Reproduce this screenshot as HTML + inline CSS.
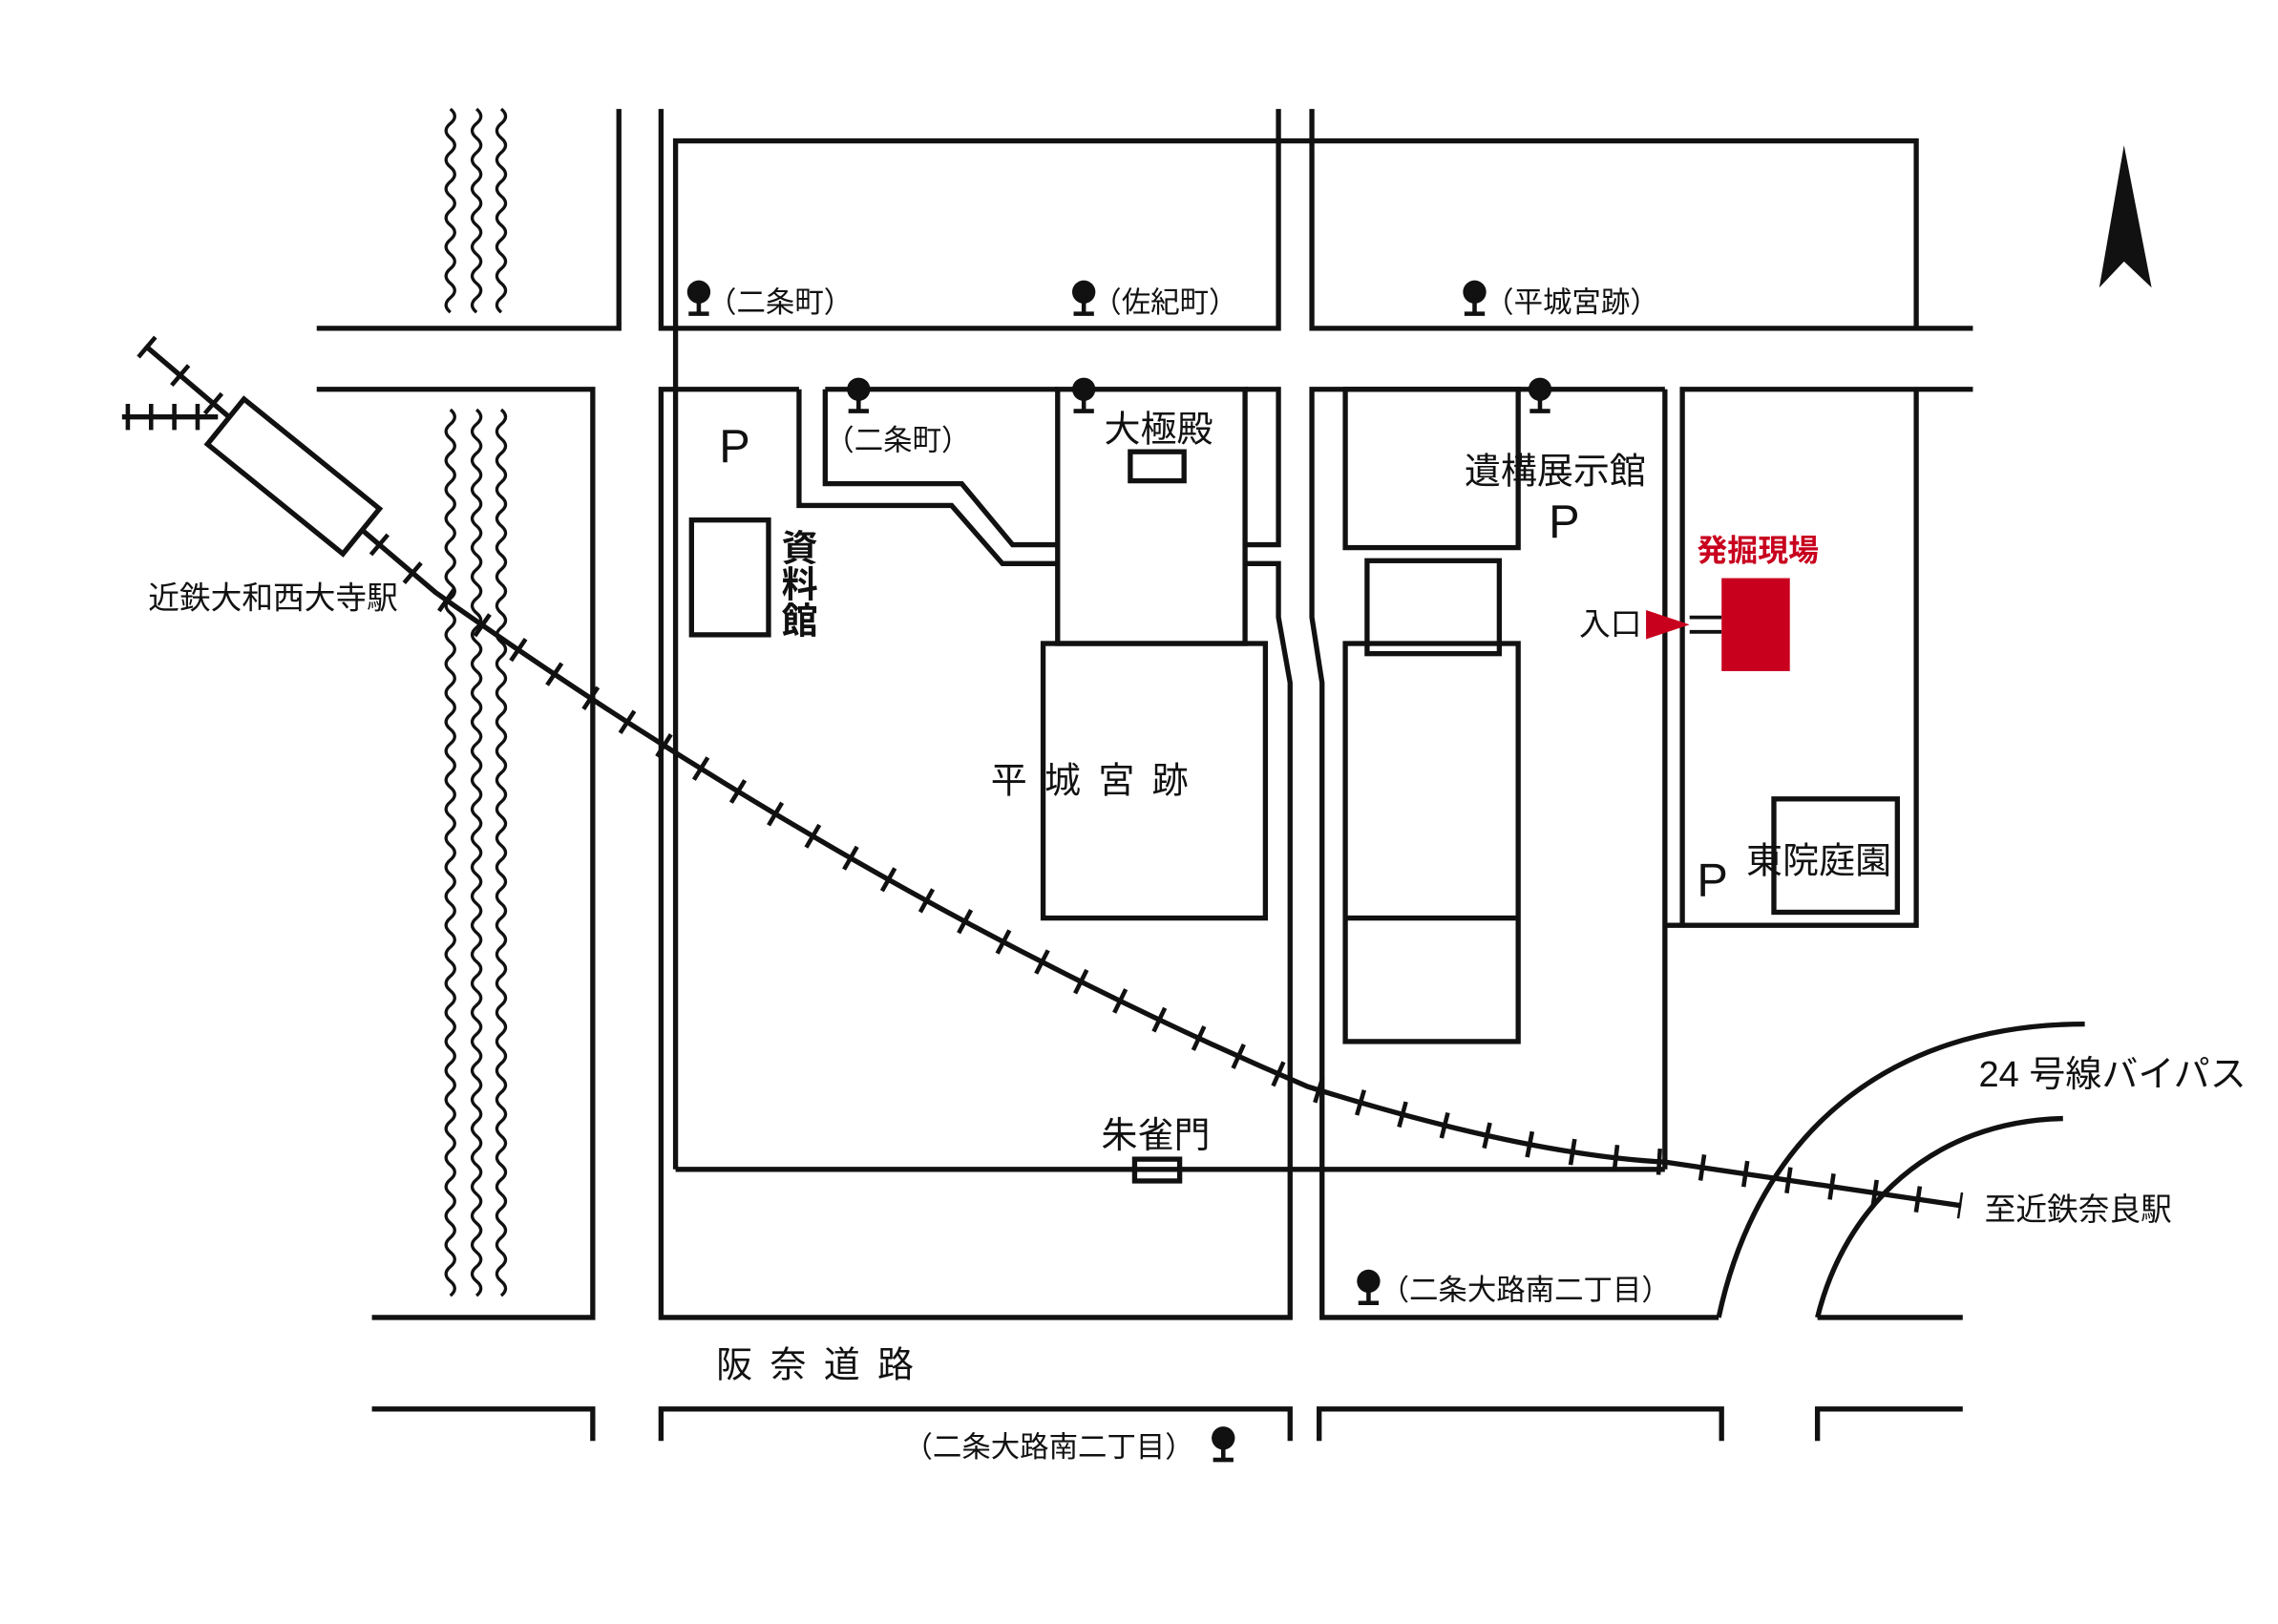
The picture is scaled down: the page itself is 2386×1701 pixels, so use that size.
<!DOCTYPE html>
<html><head><meta charset="utf-8"><style>
html,body{margin:0;padding:0;background:#fff}
svg{display:block}
text{font-family:"Liberation Sans","Noto Sans CJK JP",sans-serif;fill:#111}
</style></head><body>
<svg width="2386" height="1701" viewBox="0 0 1568 1118" preserveAspectRatio="none" xmlns="http://www.w3.org/2000/svg">
<defs>
<g id="pin"><circle cx="0" cy="0" r="8" fill="#111"/><line x1="0" y1="0" x2="0" y2="14" stroke="#111" stroke-width="3"/><line x1="-7" y1="15" x2="7" y2="15" stroke="#111" stroke-width="3"/></g>
</defs>
<g fill="none" stroke="#111" stroke-width="3.5">
<polyline points="218,226 426,226 426,75"/>
<polyline points="218,268 408,268 408,907 256,907"/>
<polyline points="455,75 455,226 880,226 880,75"/>
<polyline points="903,75 903,226 1358,226"/>
<polyline points="465,226 465,97 1319,97 1319,226"/>
<line x1="465" y1="226" x2="465" y2="805"/>
<line x1="465" y1="805" x2="1146" y2="805"/>
<polyline points="550,268 455,268 455,907 888,907 888,470 880,425 880,388 857,388"/>
<polyline points="550,268 550,348 655,348 690,388 728,388"/>
<polyline points="568,268 568,333 662,333 697,375 728,375"/>
<polyline points="568,268 728,268"/>
<polyline points="857,268 880,268 880,375 857,375"/>
<rect x="728" y="268" width="129" height="175"/>
<rect x="718" y="443" width="153" height="189"/>
<rect x="476" y="358" width="53" height="79"/>
<rect x="778" y="311" width="37" height="20"/>
<rect x="781" y="798" width="31" height="15"/>
<polyline points="1146,268 903,268 903,425 910,470 910,907 1183,907"/>
<line x1="1146" y1="268" x2="1146" y2="805"/>
<rect x="926" y="268" width="119" height="109"/>
<rect x="941" y="386" width="91" height="64"/>
<rect x="926" y="443" width="119" height="274"/>
<line x1="926" y1="632" x2="1045" y2="632"/>
<polyline points="1358,268 1158,268 1158,637"/>
<polyline points="1319,268 1319,637 1146,637"/>
<rect x="1221" y="550" width="85" height="78"/>
<polyline points="256,970 408,970 408,992"/>
<polyline points="455,992 455,970 888,970 888,992"/>
<polyline points="908,992 908,970 1185,970 1185,992"/>
<polyline points="1251,992 1251,970 1351,970"/>
<line x1="1251" y1="907" x2="1351" y2="907"/>
<path d="M1183,907 C1210,780 1300,705 1435,705"/>
<path d="M1251,907 C1270,830 1330,772 1420,770"/>
<path d="M100,238 L300,408 Q600,620 900,748 Q1050,795 1146,800 L1350,830"/>
<path d="M100,238 L300,408 Q600,620 900,748 Q1050,795 1146,800 L1350,830" stroke-width="18" stroke-dasharray="3 27"/>
<line x1="84" y1="287" x2="150" y2="287"/>
<path d="M88,278 v18 M104,278 v18 M120,278 v18 M136,278 v18" stroke-width="3"/>
<rect x="-60" y="-20" width="120" height="40" fill="#fff" transform="translate(202,328) rotate(39)"/>
<g stroke-width="2.2">
<path d="M310,75 q6,5 0,10 t0,10 t0,10 t0,10 t0,10 t0,10 t0,10 t0,10 t0,10 t0,10 t0,10 t0,10 t0,10 t0,10"/>
<path d="M328,75 q6,5 0,10 t0,10 t0,10 t0,10 t0,10 t0,10 t0,10 t0,10 t0,10 t0,10 t0,10 t0,10 t0,10 t0,10"/>
<path d="M345,75 q6,5 0,10 t0,10 t0,10 t0,10 t0,10 t0,10 t0,10 t0,10 t0,10 t0,10 t0,10 t0,10 t0,10 t0,10"/>
<path id="rv" d="M310,282 q6,5 0,10 t0,10 t0,10 t0,10 t0,10 t0,10 t0,10 t0,10 t0,10 t0,10 t0,10 t0,10 t0,10 t0,10 t0,10 t0,10 t0,10 t0,10 t0,10 t0,10 t0,10 t0,10 t0,10 t0,10 t0,10 t0,10 t0,10 t0,10 t0,10 t0,10 t0,10 t0,10 t0,10 t0,10 t0,10 t0,10 t0,10 t0,10 t0,10 t0,10 t0,10 t0,10 t0,10 t0,10 t0,10 t0,10 t0,10 t0,10 t0,10 t0,10 t0,10 t0,10 t0,10 t0,10 t0,10 t0,10 t0,10 t0,10 t0,10 t0,10 t0,10"/>
<use href="#rv" x="18"/><use href="#rv" x="35"/>
</g>
<line x1="1163" y1="425" x2="1185" y2="425" stroke-width="2.5"/>
<line x1="1163" y1="435" x2="1185" y2="435" stroke-width="2.5"/>
</g>
<polygon points="1462,100 1445,198 1462,180 1481,198" fill="#111"/>
<rect x="1185" y="398" width="47" height="64" fill="#c8001e"/>
<polygon points="1133,420 1133,440 1163,430" fill="#c8001e"/>
<text x="1168" y="386" font-size="21" font-weight="bold" style="fill:#c8001e">発掘現場</text>
<use href="#pin" x="481" y="201"/><use href="#pin" x="746" y="201"/><use href="#pin" x="1015" y="201"/>
<use href="#pin" x="591" y="268"/><use href="#pin" x="746" y="268"/><use href="#pin" x="1060" y="268"/>
<use href="#pin" x="942" y="882"/><use href="#pin" x="842" y="990"/>
<g font-size="20">
<text x="487" y="215">（二条町）</text>
<text x="752" y="215">（佐紀町）</text>
<text x="1022" y="215">（平城宮跡）</text>
<text x="568" y="310">（二条町）</text>
<text x="950" y="895">（二条大路南二丁目）</text>
<text x="622" y="1003">（二条大路南二丁目）</text>
</g>
<g font-size="21.5">
<text x="102" y="419">近鉄大和西大寺駅</text>
<text x="1366" y="840">至近鉄奈良駅</text>
<text x="1087" y="437">入口</text>
</g>
<g font-size="25">
<text x="760" y="304">大極殿</text>
<text x="1008" y="333">遺構展示館</text>
<text x="1202" y="601">東院庭園</text>
<text x="758" y="790">朱雀門</text>
<text x="1362" y="748">24 号線バイパス</text>
<text x="682" y="546" letter-spacing="12">平城宮跡</text>
<text x="493" y="948" letter-spacing="12">阪奈道路</text>
<text x="538" y="386" font-weight="bold">資</text>
<text x="538" y="411" font-weight="bold">料</text>
<text x="538" y="436" font-weight="bold">館</text>
</g>
<g font-size="32">
<text x="495" y="318">P</text>
<text x="1066" y="370">P</text>
<text x="1168" y="617">P</text>
</g>
</svg>
</body></html>
